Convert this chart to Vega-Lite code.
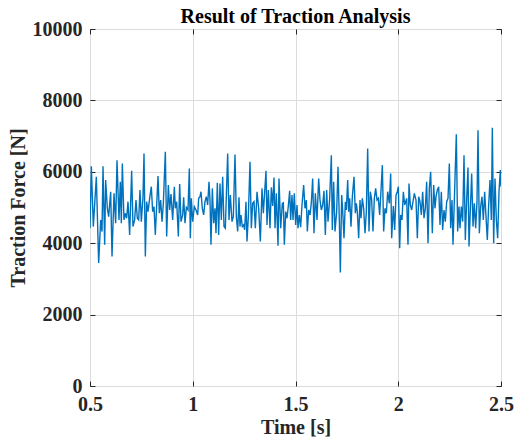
{
  "$schema": "https://vega.github.io/schema/vega-lite/v6.json",
  "width": 411,
  "height": 357,
  "autosize": "none",
  "padding": {"left": 90, "top": 29, "right": 16, "bottom": 53},
  "background": "white",
  "config": {
    "view": {"stroke": "#262626", "strokeWidth": 1},
    "font": "Liberation Serif",
    "axis": {"labelFont": "Liberation Serif", "titleFont": "Liberation Serif", "labelFontWeight": "bold", "titleFontWeight": "bold", "labelFontSize": 20, "titleFontSize": 20, "labelColor": "#262626", "titleColor": "#262626", "gridColor": "#dcdcdc", "gridWidth": 1, "domain": false, "tickColor": "#262626"}
  },
  "title": {"text": "Result of Traction Analysis", "font": "Liberation Serif", "fontSize": 20, "fontWeight": "bold", "color": "#000000", "offset": 5, "dy": 13},
  "data": {"values": [
    {"t":0.5000,"f":4419},{"t":0.5065,"f":6158},{"t":0.5162,"f":4465},{"t":0.5308,"f":5860},{"t":0.5422,"f":3443},{"t":0.5519,"f":4652},{"t":0.5584,"f":4326},{"t":0.5633,"f":6158},{"t":0.5714,"f":3954},{"t":0.5762,"f":5768},{"t":0.5844,"f":4977},{"t":0.5908,"f":4745},{"t":0.6006,"f":5442},{"t":0.6071,"f":3629},{"t":0.6168,"f":5396},{"t":0.6249,"f":4559},{"t":0.6314,"f":6326},{"t":0.6411,"f":4652},{"t":0.6476,"f":5721},{"t":0.6525,"f":4559},{"t":0.6573,"f":6233},{"t":0.6654,"f":4652},{"t":0.6719,"f":4838},{"t":0.6784,"f":4698},{"t":0.6849,"f":5163},{"t":0.6930,"f":4233},{"t":0.7027,"f":6028},{"t":0.7092,"f":4465},{"t":0.7173,"f":4652},{"t":0.7238,"f":5210},{"t":0.7303,"f":4698},{"t":0.7368,"f":4652},{"t":0.7433,"f":5489},{"t":0.7498,"f":4605},{"t":0.7579,"f":5303},{"t":0.7628,"f":6512},{"t":0.7693,"f":3629},{"t":0.7757,"f":5163},{"t":0.7822,"f":4884},{"t":0.7903,"f":5256},{"t":0.7984,"f":5582},{"t":0.8049,"f":4884},{"t":0.8114,"f":5024},{"t":0.8179,"f":4233},
    {"t":0.8309,"f":5879},{"t":0.8374,"f":4838},{"t":0.8439,"f":5210},{"t":0.8504,"f":4605},{"t":0.8569,"f":5117},{"t":0.8666,"f":6558},{"t":0.8731,"f":4187},{"t":0.8812,"f":5628},{"t":0.8877,"f":4931},{"t":0.8942,"f":5377},{"t":0.9023,"f":4652},{"t":0.9104,"f":5582},{"t":0.9153,"f":4977},{"t":0.9217,"f":5163},{"t":0.9299,"f":4187},{"t":0.9363,"f":5656},{"t":0.9428,"f":4605},{"t":0.9509,"f":4791},{"t":0.9558,"f":5284},{"t":0.9623,"f":4559},{"t":0.9688,"f":5005},{"t":0.9769,"f":4931},{"t":0.9834,"f":6093},{"t":0.9882,"f":4140},{"t":0.9931,"f":5256},{"t":0.9996,"f":4605},{"t":1.0077,"f":5024},{"t":1.0158,"f":4931},{"t":1.0239,"f":4791},{"t":1.0288,"f":5256},{"t":1.0353,"f":5303},{"t":1.0401,"f":5442},{"t":1.0466,"f":4977},{"t":1.0531,"f":4791},{"t":1.0596,"f":5163},{"t":1.0661,"f":5303},{"t":1.0726,"f":5070},{"t":1.0791,"f":5721},{"t":1.0839,"f":5210},{"t":1.0888,"f":3954},{"t":1.0953,"f":5535},{"t":1.1018,"f":4559},{"t":1.1083,"f":4977},{"t":1.1132,"f":4280},{"t":1.1196,"f":5693},{"t":1.1261,"f":4233},{"t":1.1326,"f":5674},{"t":1.1391,"f":4652},{"t":1.1456,"f":5861},{"t":1.1521,"f":4465},
    {"t":1.1586,"f":4419},{"t":1.1699,"f":6512},{"t":1.1764,"f":4652},{"t":1.1829,"f":5349},{"t":1.1910,"f":4605},{"t":1.1975,"f":4745},{"t":1.2056,"f":6484},{"t":1.2121,"f":4745},{"t":1.2186,"f":4326},{"t":1.2251,"f":5284},{"t":1.2299,"f":4465},{"t":1.2348,"f":4791},{"t":1.2413,"f":4465},{"t":1.2478,"f":4512},{"t":1.2526,"f":4372},{"t":1.2591,"f":5163},{"t":1.2640,"f":4047},{"t":1.2705,"f":4745},{"t":1.2786,"f":6279},{"t":1.2851,"f":4419},{"t":1.2916,"f":5117},{"t":1.2981,"f":5163},{"t":1.3046,"f":4419},{"t":1.3127,"f":5442},{"t":1.3208,"f":4977},{"t":1.3289,"f":4047},{"t":1.3370,"f":5535},{"t":1.3435,"f":4838},{"t":1.3500,"f":5442},{"t":1.3565,"f":6028},{"t":1.3613,"f":4512},{"t":1.3678,"f":5489},{"t":1.3759,"f":4419},{"t":1.3824,"f":5563},{"t":1.3889,"f":5042},{"t":1.3954,"f":5842},{"t":1.4003,"f":4419},{"t":1.4067,"f":5396},{"t":1.4149,"f":3926},{"t":1.4197,"f":5814},{"t":1.4278,"f":4419},{"t":1.4359,"f":5117},{"t":1.4408,"f":5135},{"t":1.4457,"f":3954},{"t":1.4522,"f":4884},{"t":1.4586,"f":4698},{"t":1.4651,"f":5042},{"t":1.4716,"f":5470},{"t":1.4765,"f":4652},{"t":1.4830,"f":5349},
    {"t":1.4878,"f":4652},{"t":1.4943,"f":5396},{"t":1.5008,"f":4512},{"t":1.5073,"f":5070},{"t":1.5122,"f":4419},{"t":1.5187,"f":4791},{"t":1.5251,"f":4447},{"t":1.5316,"f":5070},{"t":1.5397,"f":5628},{"t":1.5462,"f":4977},{"t":1.5527,"f":5210},{"t":1.5576,"f":4326},{"t":1.5641,"f":4931},{"t":1.5706,"f":4791},{"t":1.5771,"f":5135},{"t":1.5835,"f":5814},{"t":1.5900,"f":4280},{"t":1.5965,"f":5396},{"t":1.6046,"f":4652},{"t":1.6127,"f":5814},{"t":1.6192,"f":5210},{"t":1.6257,"f":4931},{"t":1.6322,"f":5070},{"t":1.6387,"f":5470},{"t":1.6452,"f":4233},{"t":1.6517,"f":5489},{"t":1.6582,"f":4605},{"t":1.6663,"f":5256},{"t":1.6744,"f":6465},{"t":1.6792,"f":4372},{"t":1.6857,"f":5721},{"t":1.6922,"f":4326},{"t":1.7003,"f":4884},{"t":1.7068,"f":6140},{"t":1.7133,"f":4652},{"t":1.7182,"f":3182},{"t":1.7247,"f":5349},{"t":1.7295,"f":4931},{"t":1.7360,"f":4140},{"t":1.7425,"f":5163},{"t":1.7474,"f":4931},{"t":1.7539,"f":5768},{"t":1.7587,"f":4884},{"t":1.7636,"f":5256},{"t":1.7701,"f":4465},{"t":1.7766,"f":5303},{"t":1.7847,"f":5861},{"t":1.7912,"f":4838},{"t":1.7960,"f":5117},{"t":1.8009,"f":4884},{"t":1.8074,"f":4140},{"t":1.8139,"f":5210},
    {"t":1.8187,"f":4698},{"t":1.8252,"f":5256},{"t":1.8317,"f":4977},{"t":1.8382,"f":4280},{"t":1.8447,"f":4884},{"t":1.8512,"f":6651},{"t":1.8577,"f":4326},{"t":1.8642,"f":5442},{"t":1.8706,"f":5210},{"t":1.8771,"f":4326},{"t":1.8836,"f":5256},{"t":1.8901,"f":5535},{"t":1.8966,"f":5210},{"t":1.9031,"f":5256},{"t":1.9096,"f":4791},{"t":1.9161,"f":5489},{"t":1.9226,"f":6186},{"t":1.9290,"f":4326},{"t":1.9355,"f":4977},{"t":1.9420,"f":4838},{"t":1.9485,"f":5442},{"t":1.9566,"f":5117},{"t":1.9631,"f":5954},{"t":1.9680,"f":4140},{"t":1.9761,"f":5042},{"t":1.9826,"f":4372},{"t":1.9891,"f":5349},{"t":1.9956,"f":5442},{"t":2.0004,"f":5582},{"t":2.0069,"f":3861},{"t":2.0118,"f":4791},{"t":2.0183,"f":4652},{"t":2.0248,"f":5442},{"t":2.0312,"f":5070},{"t":2.0410,"f":5256},{"t":2.0474,"f":3954},{"t":2.0523,"f":5674},{"t":2.0588,"f":5070},{"t":2.0653,"f":4931},{"t":2.0718,"f":5163},{"t":2.0783,"f":5396},{"t":2.0864,"f":5210},{"t":2.0929,"f":4140},{"t":2.0994,"f":5303},{"t":2.1059,"f":5163},{"t":2.1123,"f":4791},{"t":2.1188,"f":5442},{"t":2.1253,"f":4698},{"t":2.1318,"f":4977},{"t":2.1383,"f":5721},{"t":2.1448,"f":4000},
    {"t":2.1513,"f":5535},{"t":2.1577,"f":6000},{"t":2.1659,"f":4280},{"t":2.1723,"f":5628},{"t":2.1788,"f":4977},{"t":2.1837,"f":5303},{"t":2.1902,"f":5489},{"t":2.1967,"f":5582},{"t":2.2032,"f":4512},{"t":2.2097,"f":5442},{"t":2.2161,"f":4372},{"t":2.2226,"f":4931},{"t":2.2291,"f":4605},{"t":2.2356,"f":5163},{"t":2.2421,"f":5256},{"t":2.2486,"f":6233},{"t":2.2551,"f":4419},{"t":2.2616,"f":5210},{"t":2.2664,"f":3954},{"t":2.2745,"f":5489},{"t":2.2826,"f":7051},{"t":2.2891,"f":4326},{"t":2.2956,"f":5024},{"t":2.3005,"f":4419},{"t":2.3070,"f":5024},{"t":2.3135,"f":4605},{"t":2.3200,"f":6465},{"t":2.3264,"f":4093},{"t":2.3329,"f":5210},{"t":2.3394,"f":6121},{"t":2.3443,"f":3907},{"t":2.3508,"f":4931},{"t":2.3573,"f":5954},{"t":2.3638,"f":4465},{"t":2.3702,"f":5117},{"t":2.3767,"f":4419},{"t":2.3832,"f":5163},{"t":2.3881,"f":7163},{"t":2.3946,"f":4280},{"t":2.4011,"f":5024},{"t":2.4076,"f":5303},{"t":2.4140,"f":4652},{"t":2.4205,"f":5442},{"t":2.4270,"f":4745},{"t":2.4335,"f":4093},{"t":2.4400,"f":5070},{"t":2.4465,"f":5768},{"t":2.4530,"f":4652},{"t":2.4578,"f":7237},{"t":2.4643,"f":4000},{"t":2.4708,"f":5814},{"t":2.4773,"f":4652},{"t":2.4838,"f":4140},{"t":2.4903,"f":5442},{"t":2.4968,"f":6047},{"t":2.5000,"f":5582}
  ]},
  "layer": [
    {
      "mark": {"type": "line", "color": "#0072BD", "strokeWidth": 1.4, "clip": true},
      "encoding": {
        "x": {"field": "t", "type": "quantitative", "scale": {"domain": [0.5, 2.5], "nice": false, "zero": false},
          "axis": {"orient": "bottom", "title": "Time [s]", "values": [0.5, 1, 1.5, 2, 2.5], "format": ".1~f", "tickSize": -5, "labelPadding": 13, "titlePadding": 3, "labelFlush": false, "labelOverlap": false}},
        "y": {"field": "f", "type": "quantitative", "scale": {"domain": [0, 10000], "nice": false},
          "axis": {"orient": "left", "title": "Traction Force [N]", "values": [0, 2000, 4000, 6000, 8000, 10000], "tickSize": -5, "labelPadding": 13, "titlePadding": 4, "format": "d", "labelFlush": false, "labelOverlap": false}}
      }
    },
    {
      "mark": {"type": "line", "opacity": 0},
      "encoding": {
        "x": {"field": "t", "type": "quantitative", "scale": {"domain": [0.5, 2.5], "nice": false, "zero": false},
          "axis": {"orient": "top", "title": null, "labels": false, "grid": false, "values": [0.5, 1, 1.5, 2, 2.5], "tickSize": -5}},
        "y": {"field": "f", "type": "quantitative", "scale": {"domain": [0, 10000], "nice": false},
          "axis": {"orient": "right", "title": null, "labels": false, "grid": false, "values": [0, 2000, 4000, 6000, 8000, 10000], "tickSize": -5}}
      }
    }
  ],
  "resolve": {"axis": {"x": "independent", "y": "independent"}}
}
